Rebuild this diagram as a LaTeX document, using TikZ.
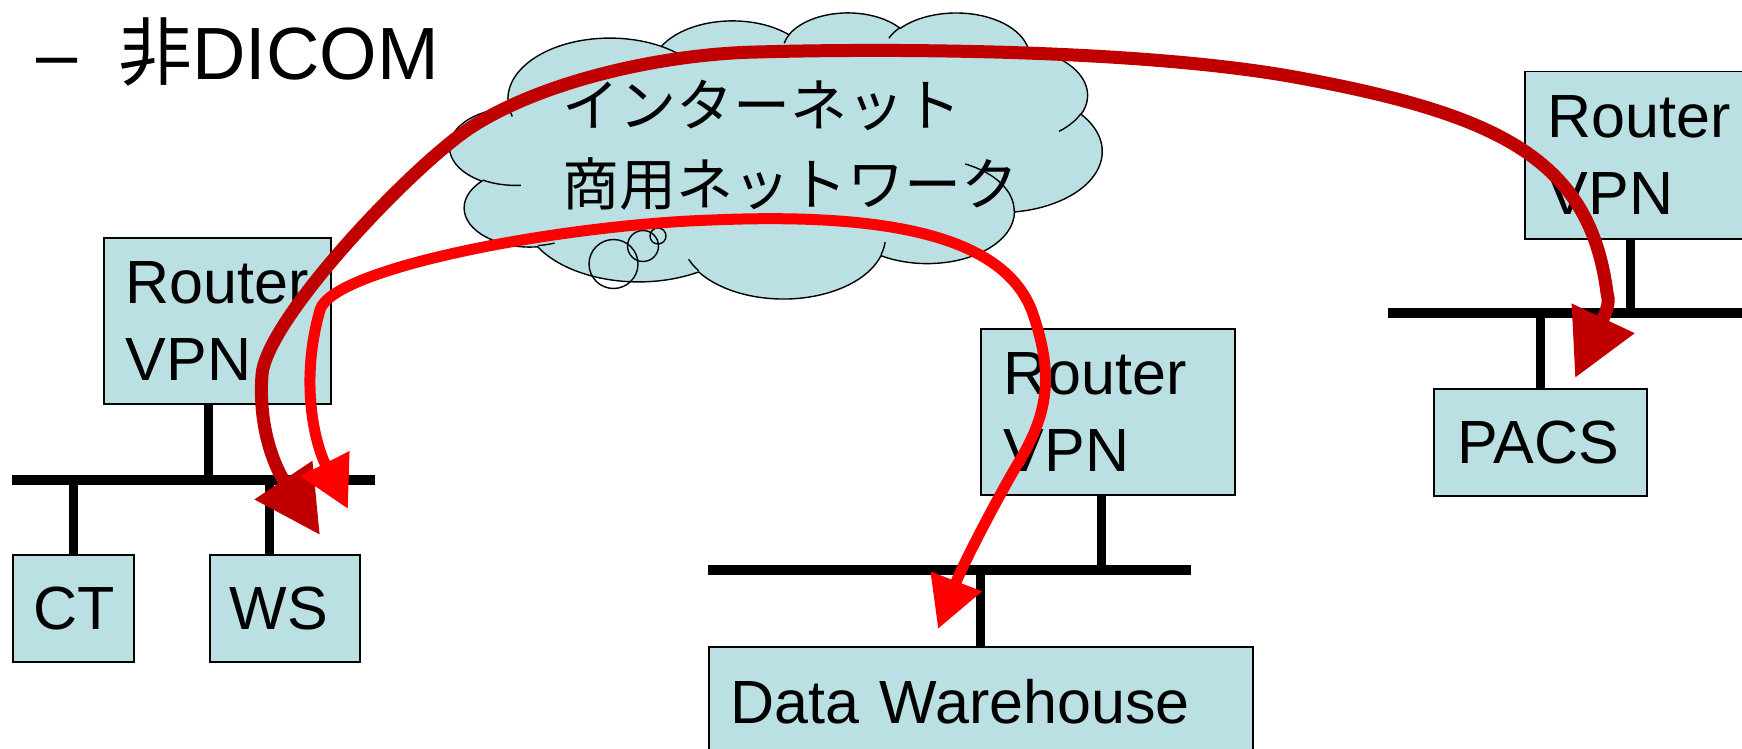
\documentclass[tikz,border=0pt]{standalone}
\usepackage{fontspec}
\setmainfont{Liberation Sans}
\newfontfamily\cjk{Noto Sans CJK JP}
\usetikzlibrary{arrows.meta}

\definecolor{boxcyan}{RGB}{187,224,227}
\definecolor{linkdark}{RGB}{192,0,0}
\definecolor{linkred}{RGB}{255,0,0}

\tikzset{
  netbox/.style={draw, fill=boxcyan, line width=1.5pt, anchor=north west, align=left,
    inner ysep=0pt, font=\fontsize{61}{77}\selectfont},
  lan/.style={fill=black, inner sep=0pt, minimum height=10pt},
  stem/.style={line width=9pt},
  cloudline/.style={draw=black, line width=1.4pt},
  dlink/.style={draw=linkdark, line width=13pt,
    {Triangle[length=66pt,width=66pt]}-{Triangle[length=66pt,width=66pt]}},
  rlink/.style={draw=linkred, line width=11pt,
    {Triangle[length=51pt,width=52pt]}-{Triangle[length=51pt,width=52pt]}}
}

\begin{document}
\begin{tikzpicture}[x=1pt, y=-1pt]
  \clip (0,0) rectangle (1742,749);
  \useasboundingbox (0,0) rectangle (1742,749);

  \node[anchor=base west, inner sep=0pt, font=\fontsize{74}{80}\selectfont] (title) at (36,80)
    {–\hspace{41pt}{\cjk 非}DICOM};

  % left site
  \node[netbox, text width=183pt, inner xsep=22pt, minimum height=166pt] (rtrL) at (103,237) {Router\\VPN};
  \node[lan, minimum width=363pt] (lanL) at (193.5,480) {};
  \node[netbox, text width=79pt, inner xsep=21pt, minimum height=107pt] (ct) at (12,554) {CT};
  \node[netbox, text width=110pt, inner xsep=20pt, minimum height=107pt] (ws) at (209,554) {WS};
  \draw[stem] ([xshift=-8.5pt]rtrL.south) -- ([xshift=-8.5pt]rtrL.south |- lanL.center);
  \draw[stem] (ct.north) -- (ct.north |- lanL.center);
  \draw[stem] ([xshift=-15pt]ws.north) -- ([xshift=-15pt]ws.north |- lanL.center);

  % middle site
  \node[netbox, text width=208pt, inner xsep=23pt, minimum height=166pt] (rtrM) at (980,328) {Router\\VPN};
  \node[lan, minimum width=483pt] (lanM) at (949.5,570) {};
  \node[netbox, text width=500pt, inner xsep=22pt, minimum height=110pt] (dw) at (708,646) {Data Warehouse};
  \draw[stem] ([xshift=-6pt]rtrM.south) -- ([xshift=-6pt]rtrM.south |- lanM.center);
  \draw[stem] (dw.north) -- (dw.north |- lanM.center);

  % right site
  \node[netbox, text width=190pt, inner xsep=23pt, minimum height=167pt] (rtrR) at (1524,71) {Router\\VPN};
  \node[lan, minimum width=370pt] (lanR) at (1573,313) {};
  \node[netbox, text width=165pt, inner xsep=24pt, minimum height=107pt] (pacs) at (1433,388) {PACS};
  \draw[stem] ([xshift=-12pt]rtrR.south) -- ([xshift=-12pt]rtrR.south |- lanR.center);
  \draw[stem] (pacs.north) -- (pacs.north |- lanR.center);

  % cloud
  \begin{scope}[shift={(450,12)}, x=1.50926pt, y=-0.66204pt]
    \filldraw[cloudline, fill=boxcyan] (39.00,143.70)
      arc[start angle=-187.75, delta angle=128.11, x radius=67.53, y radius=91.90]
      arc[start angle=-152.02, delta angle=106.57, x radius=53.33, y radius=72.67]
      arc[start angle=-153.49, delta angle=116.15, x radius=43.65, y radius=59.45]
      arc[start angle=-139.71, delta angle=129.49, x radius=48.57, y radius=65.95]
      arc[start angle=-74.77, delta angle=97.99, x radius=53.33, y radius=72.73]
      arc[start angle=-37.52, delta angle=119.38, x radius=67.75, y radius=92.20]
      arc[start angle=0.46, delta angle=121.52, x radius=57.85, y radius=78.67]
      arc[start angle=16.84, delta angle=129.40, x radius=67.52, y radius=92.15]
      arc[start angle=58.99, delta angle=91.20, x radius=77.20, y radius=105.43]
      arc[start angle=83.31, delta angle=139.81, x radius=43.60, y radius=59.18]
      arc[start angle=120.36, delta angle=143.75, x radius=43.45, y radius=59.45]
      -- cycle;
    \draw[cloudline] (46.93,261.77) arc[start angle=85.55, delta angle=34.81, x radius=43.45, y radius=59.45];
    \draw[cloudline] (69.28,348.99) arc[start angle=68.23, delta angle=15.08, x radius=43.60, y radius=59.18];
    \draw[cloudline] (164.78,390.90) arc[start angle=146.24, delta angle=12.23, x radius=67.52, y radius=92.15];
    \draw[cloudline] (288.27,347.51) arc[start angle=4.74, delta angle=12.10, x radius=67.52, y radius=92.15];
    \draw[cloudline] (341.29,229.54) arc[start angle=-64.03, delta angle=64.49, x radius=57.85, y radius=78.67];
    \draw[cloudline] (417.98,153.54) arc[start angle=23.22, delta angle=26.42, x radius=53.33, y radius=72.73];
    \draw[cloudline] (383.24,54.26) arc[start angle=-10.22, delta angle=11.04, x radius=48.57, y radius=65.95];
    \draw[cloudline] (290.78,39.52) arc[start angle=-156.29, delta angle=16.58, x radius=48.57, y radius=65.95];
    \draw[cloudline] (221.41,47.20) arc[start angle=-167.72, delta angle=14.23, x radius=43.65, y radius=59.45];
    \draw[cloudline] (140.00,51.92) arc[start angle=-59.64, delta angle=13.90, x radius=67.53, y radius=91.90];
    \draw[cloudline] (41.27,157.89) arc[start angle=163.19, delta angle=9.06, x radius=67.53, y radius=91.90];
  \end{scope}
  \draw[cloudline] (613.5,264) circle[radius=24.5];
  \draw[cloudline] (643,246) circle[radius=15.5];
  \draw[cloudline] (658,236) circle[radius=8];
  \node[anchor=base west, inner sep=0pt, align=left, font=\fontsize{57}{79}\selectfont\cjk] (inet) at (562,205)
    {インターネット\\商用ネットワーク};

  % links
  \coordinate (tipWSa) at (320,535);
  \coordinate (tipPACS) at (1575,378);
  \coordinate (tipWSb) at (348,509);
  \coordinate (tipDW) at (938,629);
  \draw[dlink] (tipWSa) .. controls (276,469) and (258,430) .. (262,375)
    .. controls (266,320) and (410,168) .. (470,128)
    .. controls (540,82) and (660,54) .. (757,52)
    .. controls (900,48) and (1150,50) .. (1300,78)
    .. controls (1500,115) and (1590,160) .. (1607,293)
    .. controls (1609,300) and (1609,306) .. (tipPACS);
  \draw[rlink] (tipWSb) .. controls (314,442) and (300,380) .. (320,310)
    .. controls (332,268) and (560,225) .. (712,220)
    .. controls (900,212) and (1010,240) .. (1034,317)
    .. controls (1052,372) and (1050,410) .. (1020,460)
    .. controls (1000,493) and (963,564) .. (tipDW);
\end{tikzpicture}
\end{document}
